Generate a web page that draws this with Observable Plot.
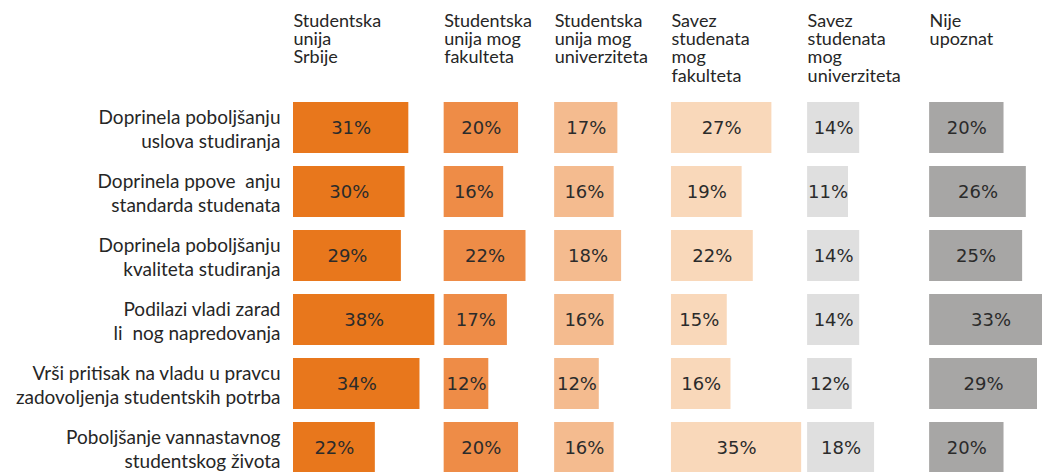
<!DOCTYPE html>
<html><head><meta charset="utf-8">
<script src="https://cdn.jsdelivr.net/npm/d3@7"></script>
<script src="https://cdn.jsdelivr.net/npm/@observablehq/plot@0.6"></script>
<style>
html,body{margin:0;padding:0;background:#fff;overflow:hidden}
g[aria-label="pct"] text{letter-spacing:2px}
</style></head><body><div id="chart"></div>
<script>
// Column headers (organizations)
const organizations = [
  "Studentska\nunija\nSrbije",
  "Studentska\nunija mog\nfakulteta",
  "Studentska\nunija mog\nuniverziteta",
  "Savez\nstudenata\nmog\nfakulteta",
  "Savez\nstudenata\nmog\nuniverziteta",
  "Nije\nupoznat"
];
// Row labels (statements)
const statements = [
  "Doprinela poboljšanju\nuslova studiranja",
  "Doprinela ppove\u00A0 anju\nstandarda studenata",
  "Doprinela poboljšanju\nkvaliteta studiranja",
  "Podilazi vladi zarad\nli\u00A0 nog napredovanja",
  "Vrši pritisak na vladu u pravcu\nzadovoljenja studentskih potrba",
  "Poboljšanje vannastavnog\nstudentskog života"
];
// Series values (%), one array per column, in row order
const unijaSrbije        = [31, 30, 29, 38, 34, 22];
const unijaFakulteta     = [20, 16, 22, 17, 12, 20];
const unijaUniverziteta  = [17, 16, 18, 16, 12, 16];
const savezFakulteta     = [27, 19, 22, 15, 16, 35];
const savezUniverziteta  = [14, 11, 14, 14, 12, 18];
const nijeUpoznat        = [20, 26, 25, 33, 29, 20];

const series = [unijaSrbije, unijaFakulteta, unijaUniverziteta, savezFakulteta, savezUniverziteta, nijeUpoznat];

// Layout: starting position of each column on the shared percent axis
const colStart = [0, 40.5, 70.2, 101.6, 138.2, 171];
const colors = ["#E8771C", "#EE8C47", "#F4BB8F", "#F9D8BA", "#DFDFDF", "#A7A6A5"];

const table = [];
series.forEach((vals, c) => vals.forEach((v, r) => table.push({
  col: c, organization: organizations[c], statement: statements[r], value: v
})));

const pxPerUnit = 3.72;
const chart = Plot.plot({
  width: 1042, height: 472,
  marginLeft: 293, marginRight: 0, marginTop: 0, marginBottom: 0,
  x: {domain: [0, (1042 - 293) / pxPerUnit], axis: null},
  y: {domain: statements, range: [87.8, 486.5], padding: 0.2, axis: null},
  color: {domain: organizations, range: colors},
  style: {fontFamily: "Lato, 'Open Sans', sans-serif", background: "#fff"},
  marks: [
    Plot.barX(table, {
      y: "statement",
      x1: d => colStart[d.col],
      x2: d => colStart[d.col] + d.value,
      fill: "organization"
    }),
    Plot.text(table, {
      y: "statement",
      x: d => colStart[d.col] + d.value / 2,
      text: d => d.value + "%",
      fontFamily: "DejaVu Sans",
      fontSize: 18,
      fill: "#2b2b2b",
      ariaLabel: "pct"
    }),
    Plot.text(statements, {
      y: d => d, x: 0, dx: -13,
      text: d => d,
      textAnchor: "end",
      lineHeight: 1.28,
      fontSize: 19,
      fill: "#262626"
    }),
    Plot.text(organizations, {
      x: (d, i) => colStart[i],
      frameAnchor: "top",
      lineAnchor: "top",
      dy: 13,
      text: d => d,
      textAnchor: "start",
      lineHeight: 1.02,
      fontSize: 18,
      fill: "#262626"
    })
  ]
});
document.getElementById("chart").append(chart);
</script></body></html>
